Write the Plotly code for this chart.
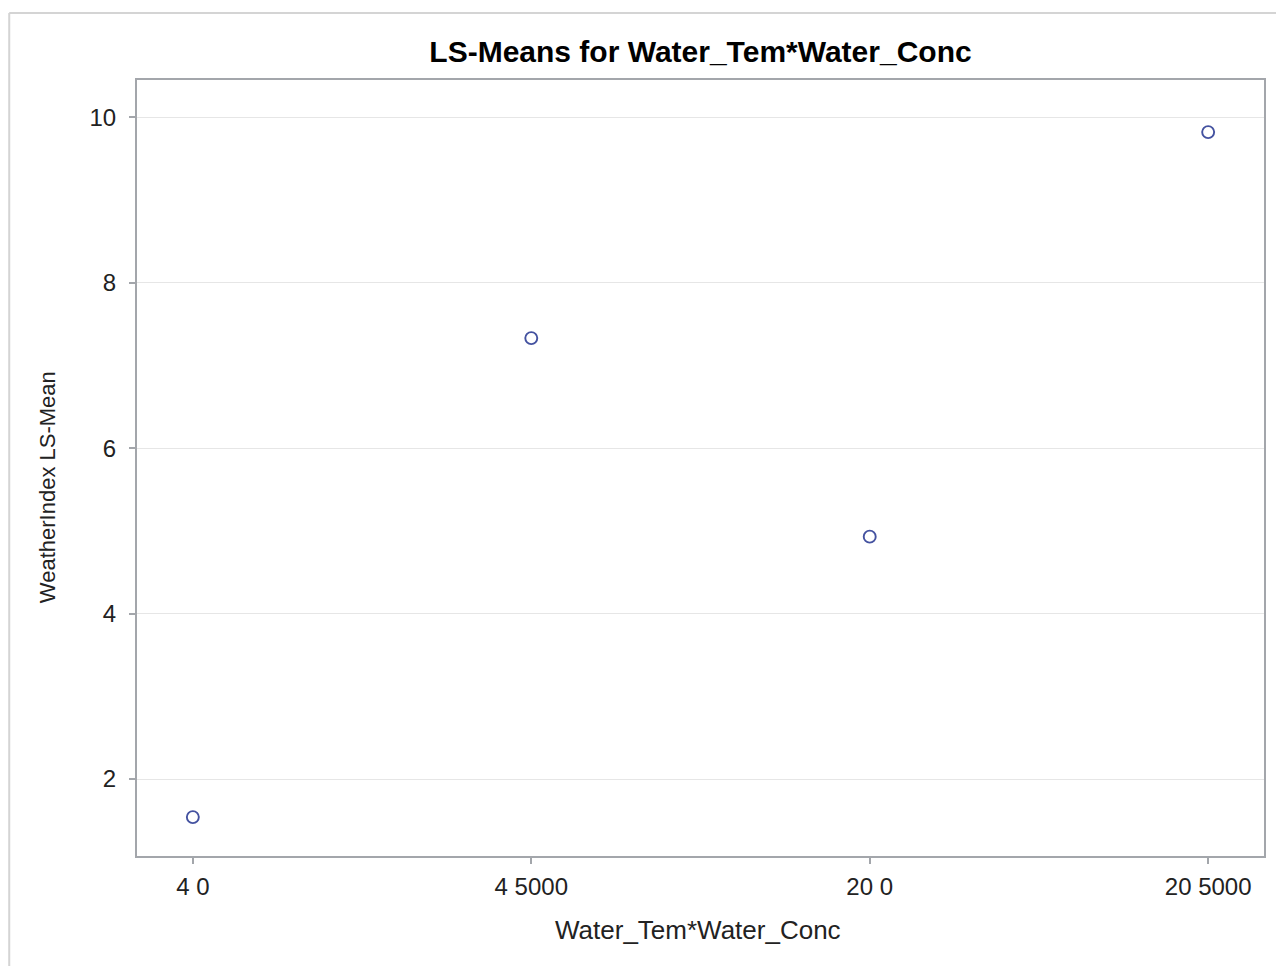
import plotly.graph_objects as go

# LS-means of WeatherIndex for each Water_Tem*Water_Conc combination
categories = ["4 0", "4 5000", "20 0", "20 5000"]
ls_means = [1.54, 7.33, 4.93, 9.82]
y_ticks = [2, 4, 6, 8, 10]

W, H = 1276, 966
L, R, T, B = 137, 1266, 80, 856  # plot-area edges in pixels

def px_x(p):
    return (p - L) / (R - L)

def px_y(p):
    return (B - p) / (B - T)

axis_col = "#A3A6AB"
font = "Liberation Sans, Arial, sans-serif"

fig = go.Figure()
fig.add_trace(go.Scatter(
    x=list(range(len(categories))), y=ls_means, mode="markers",
    marker=dict(symbol="circle-open", size=12, color="#4452A0",
                line=dict(width=1.9, color="#4452A0")),
    showlegend=False, hoverinfo="x+y",
))

fig.update_layout(
    width=W, height=H,
    margin=dict(l=L, r=W - R, t=T, b=H - B),
    paper_bgcolor="white", plot_bgcolor="white",
    font=dict(family=font, size=16, color="#222222"),
    title=dict(text="<b>LS-Means for Water_Tem*Water_Conc</b>",
               x=px_x((L + R) / 2), xref="paper", xanchor="center",
               y=1 - 51 / H, yanchor="middle",
               font=dict(family=font, size=30, color="black")),
    xaxis=dict(
        tickmode="array", tickvals=list(range(len(categories))), ticktext=categories,
        range=[-0.165, 3.165], showgrid=False, zeroline=False,
        showline=True, linecolor=axis_col, linewidth=2, mirror=True,
        ticks="outside", ticklen=6, tickcolor=axis_col, tickwidth=2,
        ticklabelstandoff=2,
        tickfont=dict(size=24, color="#222222"),
    ),
    yaxis=dict(
        tickmode="array", tickvals=y_ticks, range=[1.07, 10.45],
        showgrid=True, gridcolor="#E6E6E6", gridwidth=1, zeroline=False,
        showline=True, linecolor=axis_col, linewidth=2, mirror=True,
        ticks="outside", ticklen=6, tickcolor=axis_col, tickwidth=2,
        ticklabelstandoff=8,
        tickfont=dict(size=24, color="#222222"),
    ),
    annotations=[
        dict(text="Water_Tem*Water_Conc", xref="paper", yref="paper",
             x=px_x(699), y=px_y(930), xanchor="center", yanchor="middle",
             showarrow=False, font=dict(family=font, size=26, color="#222222")),
        dict(text="WeatherIndex LS-Mean", xref="paper", yref="paper",
             x=px_x(47), y=px_y(487), xanchor="center", yanchor="middle",
             textangle=-90, showarrow=False,
             font=dict(family=font, size=22, color="#222222")),
    ],
    shapes=[
        # outer frame (top and left edges are inside the page)
        dict(type="line", xref="paper", yref="paper",
             x0=px_x(9), x1=px_x(1290), y0=px_y(13), y1=px_y(13),
             line=dict(color="#D4D4D4", width=2)),
        dict(type="line", xref="paper", yref="paper",
             x0=px_x(9), x1=px_x(9), y0=px_y(13), y1=px_y(980),
             line=dict(color="#D4D4D4", width=2)),
    ],
)

fig.write_html("out.html")
